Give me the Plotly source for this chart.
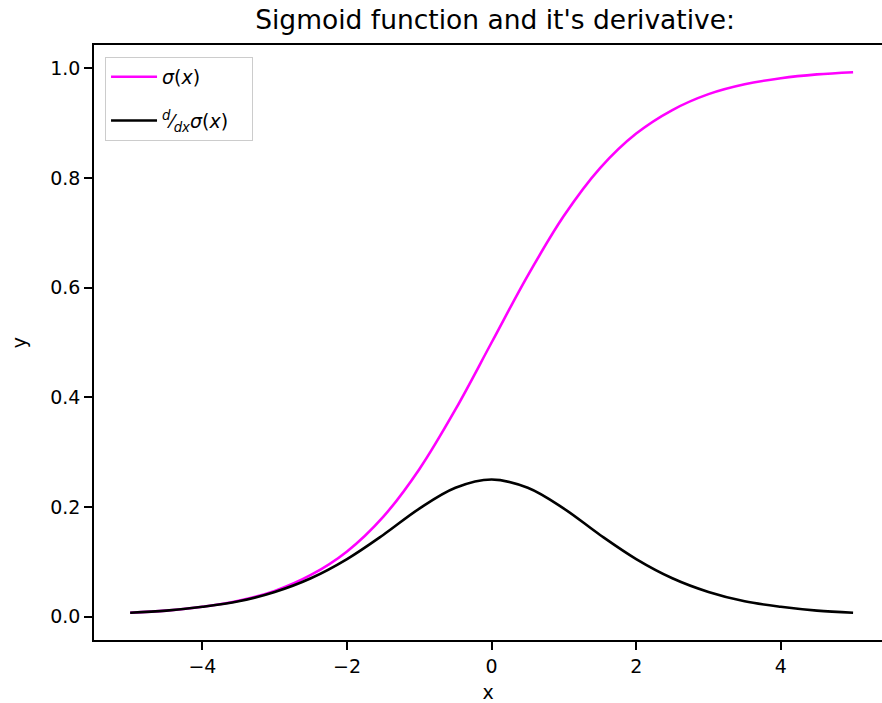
import plotly.graph_objects as go

x_vals = [-5.0, -4.5, -4.0, -3.5, -3.0, -2.5, -2.0, -1.5, -1.0, -0.5, 0.0,
          0.5, 1.0, 1.5, 2.0, 2.5, 3.0, 3.5, 4.0, 4.5, 5.0]
sigmoid_vals = [0.007, 0.011, 0.018, 0.029, 0.047, 0.076, 0.119, 0.182, 0.269, 0.378, 0.500,
                0.622, 0.731, 0.818, 0.881, 0.924, 0.953, 0.971, 0.982, 0.989, 0.993]
deriv_vals = [0.007, 0.011, 0.018, 0.028, 0.045, 0.070, 0.105, 0.149, 0.197, 0.235, 0.250,
              0.235, 0.197, 0.149, 0.105, 0.070, 0.045, 0.028, 0.018, 0.011, 0.007]
x_ticks = [-4, -2, 0, 2, 4]
y_ticks = [0.0, 0.2, 0.4, 0.6, 0.8, 1.0]
y_tick_labels = ["0.0", "0.2", "0.4", "0.6", "0.8", "1.0"]
x_tick_labels = ["\u22124", "\u22122", "0", "2", "4"]

FONT = "DejaVu Sans"

fig = go.Figure()
fig.add_trace(go.Scatter(x=x_vals, y=sigmoid_vals, mode="lines",
                         line=dict(color="#ff00ff", width=2.6, shape="spline"),
                         name="<i>σ</i>(<i>x</i>)  ", legendgroup="a"))
fig.add_trace(go.Scatter(x=x_vals, y=deriv_vals, mode="lines",
                         line=dict(color="#000000", width=2.6, shape="spline"),
                         name="<sup><i>d</i></sup>⁄<sub><i>dx</i></sub><i>σ</i>(<i>x</i>)   ",
                         legendgroup="b"))

fig.update_layout(
    width=882, height=703,
    margin=dict(l=94, r=0, t=45, b=63),
    paper_bgcolor="white", plot_bgcolor="white",
    font=dict(family=FONT, size=19, color="black"),
    title=dict(text="Sigmoid function and it's derivative:", x=0.509, xref="paper",
               xanchor="center", y=1 - 20 / 703, yref="container", yanchor="middle",
               font=dict(family=FONT, size=26.5, color="#000000")),
    legend=dict(x=0.014, y=0.98, xanchor="left", yanchor="top",
                bgcolor="rgba(255,255,255,0.8)", bordercolor="#cccccc", borderwidth=1,
                font=dict(family=FONT, size=19), itemwidth=46, tracegroupgap=16,
                traceorder="grouped"),
    showlegend=True,
)
fig.update_xaxes(range=[-5.5, 5.4], tickvals=x_ticks, ticktext=x_tick_labels,
                 showgrid=False, zeroline=False, showline=True, linecolor="black",
                 linewidth=1.5, mirror=True, ticks="outside", ticklen=8, tickwidth=1.5,
                 tickcolor="black", automargin=False,
                 title=dict(text="x", standoff=10, font=dict(size=19)))
fig.update_yaxes(range=[-0.0426, 1.0426], tickvals=y_ticks, ticktext=y_tick_labels,
                 showgrid=False, zeroline=False, showline=True, linecolor="black",
                 linewidth=1.5, mirror=False, ticks="outside", ticklen=8, tickwidth=1.5,
                 tickcolor="black", automargin=False,
                 title=dict(text="y", standoff=19, font=dict(size=19)))

fig.write_html("out.html", config={"displayModeBar": False},
               post_script="document.body.style.margin='0';document.body.style.padding='0';")
